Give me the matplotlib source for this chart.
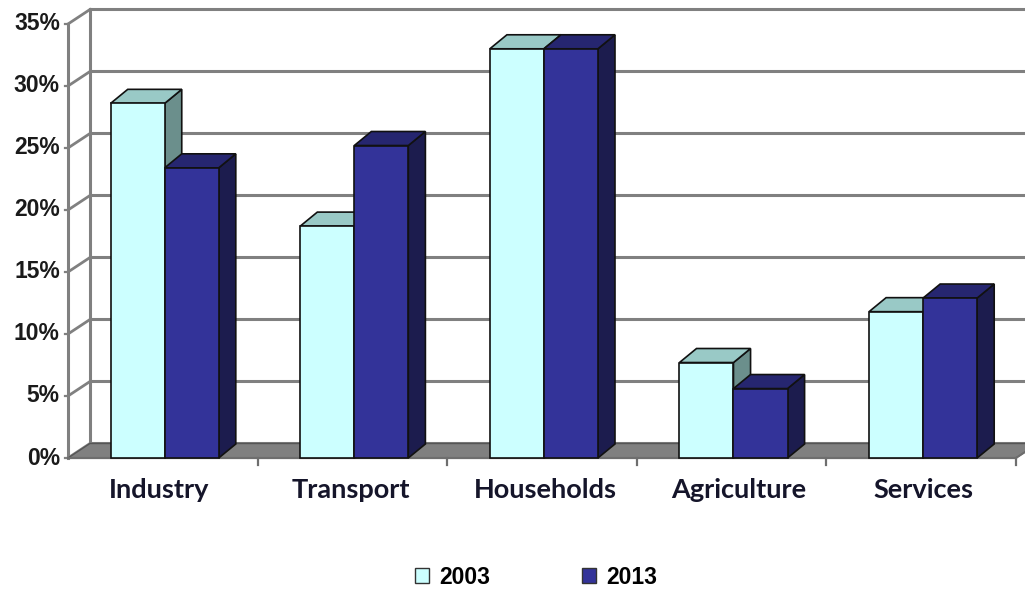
import matplotlib
matplotlib.use("Agg")
import matplotlib.pyplot as plt
from matplotlib.patches import Polygon, Patch

# ---- data ----
categories = ["Industry", "Transport", "Households", "Agriculture", "Services"]
series_names = ["2003", "2013"]
values_2003 = [28.6, 18.7, 33.0, 7.7, 11.8]
values_2013 = [23.4, 25.2, 33.0, 5.6, 12.9]
y_ticks = [0, 5, 10, 15, 20, 25, 30, 35]
y_tick_labels = ["0%", "5%", "10%", "15%", "20%", "25%", "30%", "35%"]

# ---- styling ----
face_colors = {
    "2003": ("#CCFFFF", "#99C9C6", "#6B8F8C"),   # front, top, side
    "2013": ("#333399", "#262670", "#1C1C4E"),
}
grid_color = "#808080"
floor_color = "#808080"
wall_dx, wall_dy = 0.116, 1.17      # depth offset of the walls (data units)
bar_dx, bar_dy = 0.090, 1.13        # depth offset of the bars
bar_w = 0.285
y_max = 35

fig = plt.figure(figsize=(10.25, 5.9), dpi=100)
ax = fig.add_axes([0, 0, 1, 1])
ax.set_xlim(-0.3586, 5.0475)
ax.set_ylim(-10.645, 36.935)
ax.axis("off")

n = len(categories)
x_end = n + 0.3

# back wall gridlines
for t in y_ticks:
    ax.plot([wall_dx, x_end], [t + wall_dy, t + wall_dy], color=grid_color, lw=2.2,
            solid_capstyle="butt", zorder=1)
# back wall left edge
ax.plot([wall_dx, wall_dx], [wall_dy, y_max + wall_dy], color=grid_color, lw=2.2, zorder=1)
# side wall diagonals and front value axis
for t in y_ticks:
    ax.plot([0, wall_dx], [t, t + wall_dy], color=grid_color, lw=2.0, zorder=1)
    ax.plot([-0.018, 0], [t, t], color=grid_color, lw=1.6, zorder=1)
ax.plot([0, 0], [0, y_max], color=grid_color, lw=2.2, zorder=1)

# floor
floor = Polygon([(0, 0), (n, 0), (n + wall_dx, wall_dy), (wall_dx, wall_dy)],
                closed=True, facecolor=floor_color, edgecolor="#555555", lw=1.0, zorder=2)
ax.add_patch(floor)
ax.plot([0, n], [0, 0], color="#6E6E6E", lw=1.6, zorder=2)
ax.plot([n, x_end + wall_dx], [0, wall_dy * (x_end + wall_dx - n) / wall_dx],
        color="#6E6E6E", lw=1.4, zorder=2)
# category separators below the floor
for k in range(1, n + 1):
    ax.plot([k, k], [0, -0.6], color="#6E6E6E", lw=1.6, zorder=2)


def draw_bar(x0, h, colors, z):
    front, top, side = colors
    ec = "#111111"
    ax.add_patch(Polygon([(x0 + bar_w, 0), (x0 + bar_w + bar_dx, bar_dy),
                          (x0 + bar_w + bar_dx, h + bar_dy), (x0 + bar_w, h)],
                         closed=True, facecolor=side, edgecolor=ec, lw=1.2, zorder=z))
    ax.add_patch(Polygon([(x0, h), (x0 + bar_w, h), (x0 + bar_w + bar_dx, h + bar_dy),
                          (x0 + bar_dx, h + bar_dy)],
                         closed=True, facecolor=top, edgecolor=ec, lw=1.2, zorder=z))
    ax.add_patch(Polygon([(x0, 0), (x0 + bar_w, 0), (x0 + bar_w, h), (x0, h)],
                         closed=True, facecolor=front, edgecolor=ec, lw=1.2, zorder=z))


z = 3
for i in range(n):
    center = i + 0.51
    draw_bar(center - bar_w, values_2003[i], face_colors["2003"], z)
    z += 1
    draw_bar(center, values_2013[i], face_colors["2013"], z)
    z += 1

# value axis labels
for t, lab in zip(y_ticks, y_tick_labels):
    ax.text(-0.043, t, lab, ha="right", va="center", fontsize=16.5,
            fontweight="bold", family="Liberation Sans", color="#1a1a1a")

# category labels
label_x = [0.48, 1.49, 2.52, 3.54, 4.51]
for x, c in zip(label_x, categories):
    ax.text(x, -2.6, c, ha="center", va="center", fontsize=19.5,
            fontweight="bold", family="Lato", color="#15152a")

# legend
handles = [Patch(facecolor=face_colors[s][0], edgecolor="#333333", lw=1.0, label=s)
           for s in series_names]
leg = ax.legend(handles=handles, ncol=2, loc="center", bbox_to_anchor=(0.523, 0.022),
                bbox_transform=fig.transFigure, frameon=False, borderpad=0,
                handlelength=0.6, handleheight=0.6, handletextpad=0.45,
                columnspacing=4.0,
                prop={"family": "Liberation Sans", "weight": "bold", "size": 16.5})

fig.savefig("out.png", dpi=100)
